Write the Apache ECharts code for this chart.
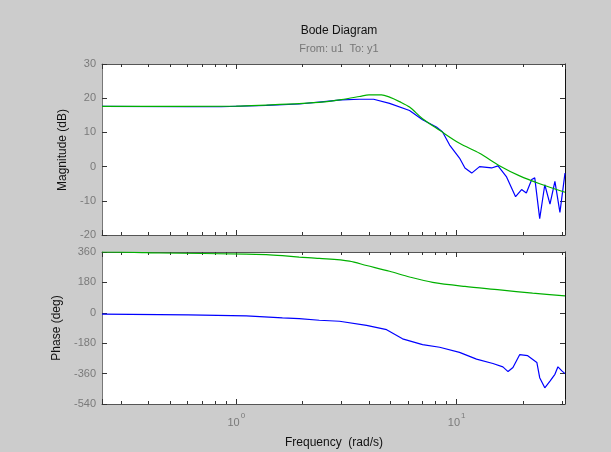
<!DOCTYPE html>
<html>
<head>
<meta charset="utf-8">
<script src="https://cdn.jsdelivr.net/npm/echarts@6/dist/echarts.min.js"></script>
<style>
html,body{margin:0;padding:0;background:#cccccc;}
#chart{width:611px;height:452px;}
</style>
</head>
<body>
<div id="chart"></div>
<script>
// ---- data (frequency in rad/s) ----
var magGreenFreq = [0.246, 1.0, 1.37, 1.93, 2.5, 3.0, 3.62, 4.0, 4.56, 4.96, 5.5, 6.11, 7.0, 8.37, 10.3, 12.7, 15.7, 19.3, 23.8, 31.0];
var magGreen     = [17.6, 17.7, 18.0, 18.4, 18.9, 19.6, 20.5, 21.0, 21.0, 20.3, 19.0, 17.4, 14.0, 10.6, 6.8, 3.9, 0.2, -2.7, -5.0, -7.5];

var magBlueFreq = [0.246, 0.605, 0.855, 1.37, 1.93, 2.5, 3.0, 3.62, 4.2, 4.96, 6.11, 7.0, 8.09, 8.63, 9.29, 10.3, 10.9, 11.7, 12.7, 14.4, 15.4, 16.8, 18.5, 19.7, 20.7, 21.9, 22.6, 23.8, 25.1, 26.5, 27.9, 29.4, 31.0];
var magBlue     = [17.6, 17.5, 17.5, 17.9, 18.3, 19.0, 19.5, 19.7, 19.7, 18.5, 16.4, 13.7, 11.6, 10.1, 6.3, 2.5, -0.4, -1.9, 0.0, -0.4, 0.2, -2.9, -8.8, -6.7, -7.7, -3.8, -3.3, -15.2, -5.3, -11.0, -4.3, -13.4, -1.9];

var phGreenFreq = [0.246, 0.344, 0.447, 1.11, 1.37, 1.62, 1.93, 2.38, 3.26, 3.90, 4.96, 6.11, 7.78, 10.9, 15.7, 22.1, 31.0];
var phGreen     = [360, 358, 354, 348, 344, 338, 330, 322, 306, 280, 246, 212, 180, 156, 136, 116, 100];

var phBlueFreq = [0.246, 0.605, 1.11, 1.62, 1.93, 2.38, 2.94, 3.90, 4.81, 5.68, 7.0, 8.37, 10.3, 12.3, 14.6, 16.2, 17.1, 18.0, 19.3, 21.0, 23.1, 23.8, 25.1, 26.5, 27.9, 28.8, 30.0, 31.0];
var phBlue     = [-8, -12, -18, -30, -34, -44, -50, -74, -100, -154, -188, -204, -234, -274, -300, -320, -348, -324, -248, -254, -294, -384, -444, -404, -364, -320, -344, -360];

var magTicks = {min: -20, max: 30, step: 10};
var phaseTicks = {min: -540, max: 360, step: 180};
var freqRange = {min: 0.246, max: 31};

var titleText = 'Bode Diagram';
var subTitleText = 'From: u1  To: y1';
var magLabel = 'Magnitude (dB)';
var phaseLabel = 'Phase (deg)';
var freqLabel = 'Frequency  (rad/s)';

function zip(xs, ys){ return xs.map(function(x,i){ return [x, ys[i]]; }); }

var FONT = '"Liberation Sans", Arial, sans-serif';
var tickGray = '#7a7a7a';
var blue = '#0000ff';
var green = '#00b000';

var L = 102, R = 46;
var grids = [
  {left: L, right: R, top: 64, height: 171},
  {left: L, right: R, top: 252, height: 152}
];
grids.forEach(function(g){ g.show = true; g.backgroundColor = '#ffffff'; g.borderWidth = 0; });

function xAx(gridIndex, pos, showLabel, lineColor){
  return {
    type: 'log', logBase: 10, gridIndex: gridIndex, position: pos,
    min: freqRange.min, max: freqRange.max,
    axisLine: {show: true, onZero: false, lineStyle: {color: lineColor, width: 1}},
    axisTick: {show: true, inside: true, length: 5, lineStyle: {color: '#333'}},
    minorTick: {show: true, splitNumber: 9, length: 3, lineStyle: {color: '#333'}},
    splitLine: {show: false},
    minorSplitLine: {show: false},
    axisLabel: {
      show: showLabel, showMinLabel: false, showMaxLabel: false, margin: 8,
      formatter: function(v){
        var e = Math.round(Math.log(v)/Math.LN10);
        if (Math.abs(v - Math.pow(10, e)) > 1e-6 * Math.pow(10, e)) return '';
        return '{b|10}{e|' + e + '}';
      },
      rich: {
        b: {fontSize: 11, color: tickGray, fontFamily: FONT, verticalAlign: 'bottom', lineHeight: 16},
        e: {fontSize: 8, color: tickGray, fontFamily: FONT, verticalAlign: 'top', padding: [0, 0, 0, 1], lineHeight: 16}
      }
    }
  };
}
function yAx(gridIndex, pos, t, showLabel, lineColor){
  return {
    type: 'value', gridIndex: gridIndex, position: pos,
    min: t.min, max: t.max, interval: t.step,
    axisLine: {show: true, onZero: false, lineStyle: {color: lineColor, width: 1}},
    axisTick: {show: true, inside: true, length: 5, lineStyle: {color: '#333'}},
    splitLine: {show: false},
    axisLabel: {show: showLabel, color: tickGray, fontSize: 11, fontFamily: FONT, margin: 6}
  };
}

var option = {
  backgroundColor: '#cccccc',
  animation: false,
  title: [
    {text: titleText, left: 334, top: 20, textAlign: 'center',
     textStyle: {fontSize: 12, fontWeight: 'normal', color: '#111', fontFamily: FONT}},
    {text: subTitleText, left: 334, top: 38, textAlign: 'center',
     textStyle: {fontSize: 11, fontWeight: 'normal', color: '#777', fontFamily: FONT}}
  ],
  grid: grids,
  xAxis: [
    xAx(0, 'bottom', false, '#555'),
    xAx(0, 'top', false, '#555'),
    xAx(1, 'bottom', true, '#555'),
    xAx(1, 'top', false, '#555')
  ],
  yAxis: [
    yAx(0, 'left', magTicks, true, '#777'),
    yAx(0, 'right', magTicks, false, '#111'),
    yAx(1, 'left', phaseTicks, true, '#777'),
    yAx(1, 'right', phaseTicks, false, '#111')
  ],
  graphic: [
    {type: 'text', x: 63, y: 150, rotation: Math.PI/2,
     style: {text: magLabel, fill: '#111', font: '12px ' + FONT, align: 'center', verticalAlign: 'middle'}},
    {type: 'text', x: 57, y: 328, rotation: Math.PI/2,
     style: {text: phaseLabel, fill: '#111', font: '12px ' + FONT, align: 'center', verticalAlign: 'middle'}},
    {type: 'text', x: 334, y: 443,
     style: {text: freqLabel, fill: '#111', font: '12px ' + FONT, align: 'center', verticalAlign: 'middle'}}
  ],
  series: [
    {type: 'line', xAxisIndex: 0, yAxisIndex: 0, data: zip(magBlueFreq, magBlue), showSymbol: false,
     lineStyle: {color: blue, width: 1.2}, clip: true},
    {type: 'line', xAxisIndex: 0, yAxisIndex: 0, data: zip(magGreenFreq, magGreen), showSymbol: false, smooth: 0.3,
     lineStyle: {color: green, width: 1.2}, clip: true},
    {type: 'line', xAxisIndex: 2, yAxisIndex: 2, data: zip(phBlueFreq, phBlue), showSymbol: false,
     lineStyle: {color: blue, width: 1.2}, clip: true},
    {type: 'line', xAxisIndex: 2, yAxisIndex: 2, data: zip(phGreenFreq, phGreen), showSymbol: false, smooth: 0.3,
     lineStyle: {color: green, width: 1.2}, clip: true}
  ]
};

var chart = echarts.init(document.getElementById('chart'), null, {renderer: 'canvas'});
chart.setOption(option);
</script>
</body>
</html>
